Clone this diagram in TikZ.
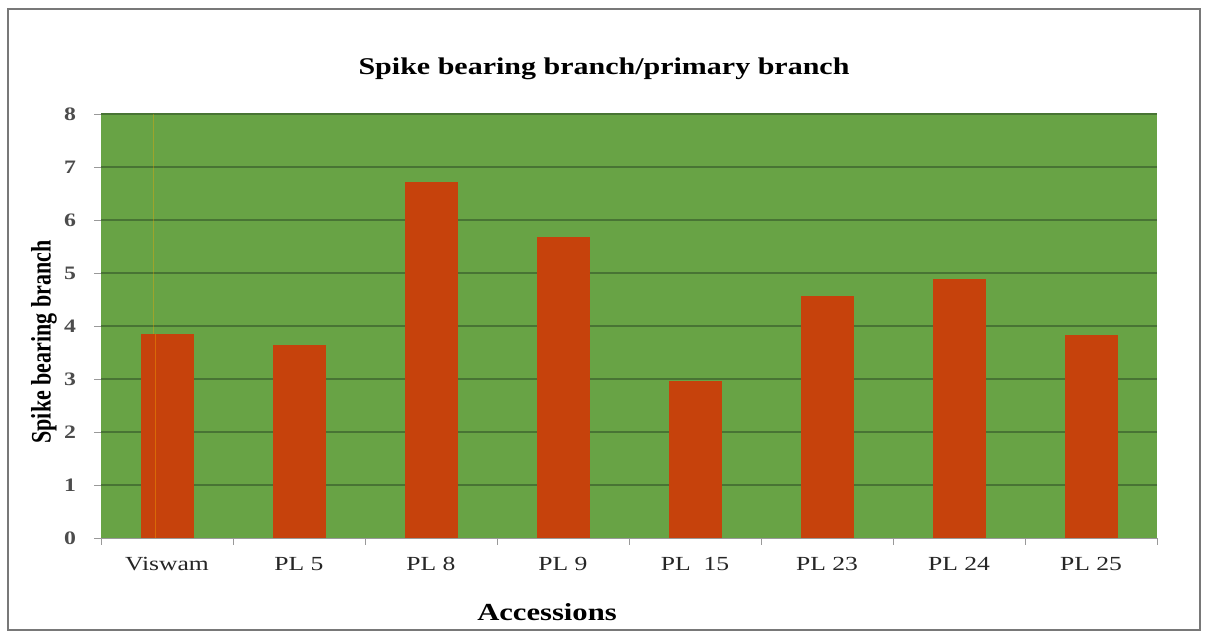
\documentclass[tikz,border=0pt]{standalone}
\usepackage{fontspec}
\setmainfont{Liberation Serif}
\definecolor{plotgreen}{RGB}{104,163,69}
\definecolor{gridgreen}{RGB}{72,116,52}
\definecolor{barred}{RGB}{198,66,12}
\definecolor{framegray}{RGB}{120,120,120}
\begin{document}
\begin{tikzpicture}[x=1pt,y=-1pt,
  bar/.style={fill=barred,draw=none},
  gridln/.style={draw=gridgreen,line width=1.1pt},
  tickln/.style={draw=gray!80,line width=0.9pt},
  ticklab/.style={font=\fontsize{19}{19}\selectfont\bfseries,text=black!70,inner sep=0pt},
  catlab/.style={font=\fontsize{20}{20}\selectfont,text=black!85,inner sep=0pt},
  titlelab/.style={font=\fontsize{24}{24}\selectfont\bfseries,inner sep=0pt},
  axlab/.style={font=\fontsize{24.5}{24.5}\selectfont\bfseries,inner sep=0pt},
  ylablab/.style={font=\fontsize{22}{22}\selectfont\bfseries,inner sep=0pt}]
\useasboundingbox (0,0) rectangle (1205,635);
\fill[white] (0,0) rectangle (1205,635);
% outer frame
\draw[framegray,line width=1.8pt] (8,9) rectangle (1200,630);
% plot area
\fill[plotgreen] (101,114) rectangle (1157,538);
\foreach \v in {1,...,8}{
  \draw[gridln] (101,{538-53*\v}) -- (1157,{538-53*\v});
}
% faint artifact line
\draw[orange!70!yellow,opacity=0.35,line width=1pt] (153,114) -- (153,538);
% bars
\foreach \i/\val in {0/3.85,1/3.65,2/6.72,3/5.68,4/2.96,5/4.57,6/4.89,7/3.83}{
  \fill[bar] ({141+132*\i},{538-53*\val}) rectangle ({194+132*\i},538);
}
\draw[orange!60!yellow,opacity=0.35,line width=1pt] (155,334) -- (155,538);
% axes
\draw[tickln] (101,538) -- (1157,538);
\foreach \v in {0,...,8}{
  \draw[tickln] (94,{538-53*\v}) -- (101,{538-53*\v});
  \node[ticklab] (y\v) at (70,{538-53*\v}) {\scalebox{1.25}[1]{\v}};
}
\foreach \i in {0,...,8}{
  \draw[tickln] ({101+132*\i},538) -- ({101+132*\i},545);
}
% category labels
\foreach \i/\lab in {0/Viswam,1/PL 5,2/PL 8,3/PL 9,4/PL\ \ 15,5/PL 23,6/PL 24,7/PL 25}{
  \node[catlab] (c\i) at ({167+132*\i},564) {\scalebox{1.28}[1]{\lab}};
}
% titles
\node[titlelab] (title) at (604,69) {\scalebox{1.25}[1]{Spike bearing branch/primary branch}};
\node[axlab] (xlab) at (547,612) {\scalebox{1.25}[1]{Accessions}};
\node[ylablab,rotate=90] (ylab) at (44,342) {\scalebox{1}[1.28]{Spike bearing branch}};
\end{tikzpicture}
\end{document}
